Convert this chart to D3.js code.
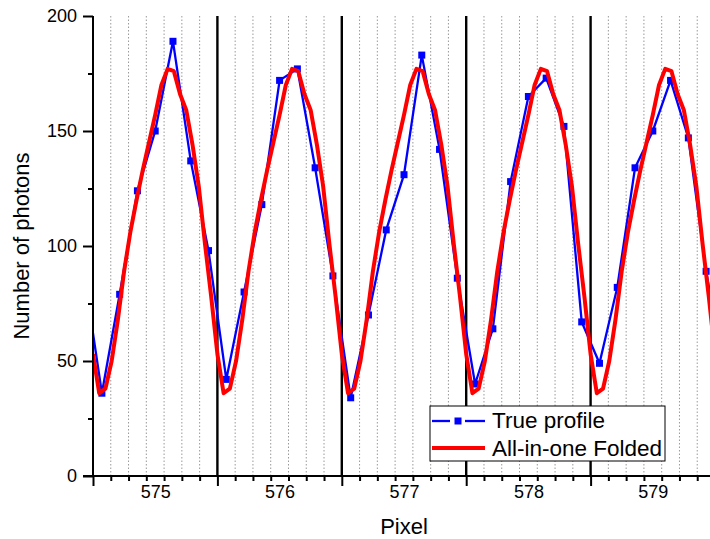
<!DOCTYPE html>
<html>
<head>
<meta charset="utf-8">
<script src="https://cdn.jsdelivr.net/npm/d3@7"></script>
<style>
  body { margin: 0; background: #fff; }
  svg { display: block; font-family: "Liberation Sans", Arial, sans-serif; }
  .axis text { font-size: 18px; fill: #000; }
  .axis line { stroke: #000; stroke-width: 2; }
  .grid-line { stroke: #999; stroke-width: 1; stroke-dasharray: 1.5, 2; }
  .pixel-edge { stroke: #000; stroke-width: 2.4; }
  .axis-title { font-size: 22px; fill: #000; }
  .legend-text { font-size: 22.5px; fill: #000; }
</style>
</head>
<body>
<div id="chart"></div>
<script>
// True profile, sampled at the centre of each 1/7 sub-pixel
const trueStart = 574.5 - 0.5 / 7;
const trueStep = 1 / 7;
const trueProfile = [
  88,
  36, 79, 124, 150, 189, 137, 98,
  42, 80, 118, 172, 177, 134, 87,
  34, 70, 107, 131, 183, 142, 86,
  40, 64, 128, 165, 173, 152, 67,
  49, 82, 134, 150, 172, 147, 89,
  46
];

// All-in-one folded profile, sampled every 1/20 pixel from 574.5
const foldedStart = 574.5;
const foldedStep = 1 / 20;
const foldedProfile = [
  53, 36, 38, 50, 68, 89, 106, 120, 133, 145, 157, 170, 177, 176, 166, 159, 144, 126, 101, 78,
  53, 36, 38, 50, 68, 89, 106, 120, 133, 145, 157, 170, 177, 176, 166, 159, 144, 126, 101, 78,
  53, 36, 38, 50, 68, 89, 106, 120, 133, 145, 157, 170, 177, 176, 166, 159, 144, 126, 101, 78,
  53, 36, 38, 50, 68, 89, 106, 120, 133, 145, 157, 170, 177, 176, 166, 159, 144, 126, 101, 78,
  53, 36, 38, 50, 68, 89, 106, 120, 133, 145, 157, 170, 177, 176, 166, 159, 144, 126, 101, 78,
  53
];

const pixelLabels = [575, 576, 577, 578, 579];
const pixelEdges = [575.5, 576.5, 577.5, 578.5];
const yMajorTicks = [0, 50, 100, 150, 200];
const yMinorTicks = [25, 75, 125, 175];

const width = 710;
const height = 539;
const margin = { top: 16, right: -5, bottom: 63, left: 93 };
const innerWidth = width - margin.left - margin.right;
const innerHeight = height - margin.top - margin.bottom;

const svg = d3.select("#chart")
  .append("svg")
  .attr("width", width)
  .attr("height", height);

const g = svg.append("g")
  .attr("transform", `translate(${margin.left}, ${margin.top})`);

const xScale = d3.scaleLinear()
  .domain([574.5, 579.5])
  .range([0, innerWidth]);

const yScale = d3.scaleLinear()
  .domain([0, 200])
  .range([innerHeight, 0]);

svg.append("defs")
  .append("clipPath")
  .attr("id", "plot-clip")
  .append("rect")
  .attr("x", 0)
  .attr("y", -10)
  .attr("width", innerWidth)
  .attr("height", innerHeight + 20);

// sub-pixel boundaries
const subEdges = d3.range(1, 35).filter(i => i % 7 !== 0).map(i => 574.5 + i / 7);

g.selectAll(".grid-line")
  .data(subEdges)
  .join("line")
  .attr("class", "grid-line")
  .attr("x1", d => xScale(d))
  .attr("x2", d => xScale(d))
  .attr("y1", 0)
  .attr("y2", innerHeight);

g.selectAll(".pixel-edge")
  .data(pixelEdges)
  .join("line")
  .attr("class", "pixel-edge")
  .attr("x1", d => xScale(d))
  .attr("x2", d => xScale(d))
  .attr("y1", 0)
  .attr("y2", innerHeight);

const trueData = trueProfile.map((v, i) => ({ x: trueStart + i * trueStep, y: v }));
const foldedData = foldedProfile.map((v, i) => ({ x: foldedStart + i * foldedStep, y: v }));

const line = d3.line()
  .x(d => xScale(d.x))
  .y(d => yScale(d.y));

const plot = g.append("g").attr("clip-path", "url(#plot-clip)");

plot.append("path")
  .attr("d", line(trueData))
  .attr("fill", "none")
  .attr("stroke", "#0000ff")
  .attr("stroke-width", 2.3);

plot.selectAll(".marker")
  .data(trueData)
  .join("rect")
  .attr("class", "marker")
  .attr("x", d => xScale(d.x) - 3.5)
  .attr("y", d => yScale(d.y) - 3.5)
  .attr("width", 7)
  .attr("height", 7)
  .attr("fill", "#0000ff");

plot.append("path")
  .attr("d", line(foldedData))
  .attr("fill", "none")
  .attr("stroke", "#ff0000")
  .attr("stroke-width", 4)
  .attr("stroke-linejoin", "round");

// axes
const majorEdges = [574.5].concat(pixelEdges);
const bare = a => { a.select(".domain").remove(); };
const noText = a => { a.select(".domain").remove(); a.selectAll("text").remove(); };

g.append("g")
  .attr("class", "axis")
  .attr("transform", `translate(0, ${innerHeight})`)
  .call(d3.axisBottom(xScale).tickValues(subEdges).tickSize(5).tickSizeOuter(0))
  .call(noText);

g.append("g")
  .attr("class", "axis")
  .attr("transform", `translate(0, ${innerHeight})`)
  .call(d3.axisBottom(xScale).tickValues(majorEdges).tickSize(10).tickSizeOuter(0))
  .call(noText);

g.append("g")
  .attr("class", "axis")
  .attr("transform", `translate(0, ${innerHeight})`)
  .call(d3.axisBottom(xScale).tickValues(pixelLabels).tickSize(0).tickPadding(9).tickFormat(d3.format("d")))
  .call(bare);

g.append("g")
  .attr("class", "axis")
  .call(d3.axisLeft(yScale).tickValues(yMinorTicks).tickSize(5).tickSizeOuter(0))
  .call(noText);

g.append("g")
  .attr("class", "axis")
  .call(d3.axisLeft(yScale).tickValues(yMajorTicks).tickSize(10).tickPadding(6).tickSizeOuter(0))
  .call(bare);

g.append("line")
  .attr("x1", 0).attr("x2", 0)
  .attr("y1", 0).attr("y2", innerHeight + 1)
  .attr("stroke", "#000").attr("stroke-width", 2);

g.append("line")
  .attr("x1", -10).attr("x2", innerWidth)
  .attr("y1", innerHeight).attr("y2", innerHeight)
  .attr("stroke", "#000").attr("stroke-width", 2);

// titles
svg.append("text")
  .attr("class", "axis-title")
  .attr("x", 404)
  .attr("y", 534)
  .attr("text-anchor", "middle")
  .text("Pixel");

svg.append("text")
  .attr("class", "axis-title")
  .attr("transform", `translate(29, ${margin.top + innerHeight / 2}) rotate(-90)`)
  .attr("text-anchor", "middle")
  .text("Number of photons");

// legend
const legend = svg.append("g").attr("transform", "translate(430, 406)");

legend.append("rect")
  .attr("width", 235)
  .attr("height", 55)
  .attr("fill", "#fff")
  .attr("stroke", "#000")
  .attr("stroke-width", 1);

legend.append("line")
  .attr("x1", 2).attr("x2", 20).attr("y1", 15).attr("y2", 15)
  .attr("stroke", "#0000ff").attr("stroke-width", 2.3);
legend.append("line")
  .attr("x1", 35).attr("x2", 55).attr("y1", 15).attr("y2", 15)
  .attr("stroke", "#0000ff").attr("stroke-width", 2.3);
legend.append("rect")
  .attr("x", 24.5).attr("y", 11.5).attr("width", 7).attr("height", 7)
  .attr("fill", "#0000ff");

legend.append("line")
  .attr("x1", 2).attr("x2", 55).attr("y1", 42).attr("y2", 42)
  .attr("stroke", "#ff0000").attr("stroke-width", 4);

legend.append("text")
  .attr("class", "legend-text")
  .attr("x", 62).attr("y", 22)
  .text("True profile");

legend.append("text")
  .attr("class", "legend-text")
  .attr("x", 62).attr("y", 49.5)
  .text("All-in-one Folded");
</script>
</body>
</html>
